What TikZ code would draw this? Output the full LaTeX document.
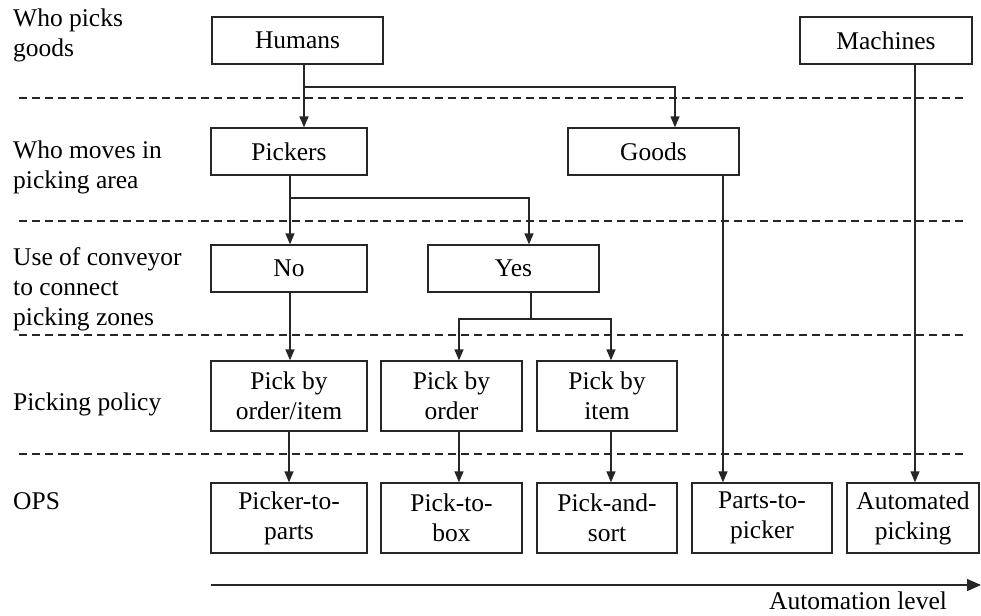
\documentclass[tikz,border=0pt]{standalone}
\usepackage{fontspec}
\setmainfont{Liberation Serif}
\usetikzlibrary{arrows.meta}
\begin{document}
\begin{tikzpicture}[x=1pt,y=-1pt,
  txt/.style={font=\fontsize{25.5}{30}\selectfont},
  box/.style={txt, draw=black!85, line width=1.3pt, minimum height=47pt, inner sep=0pt, align=center},
  tall/.style={box, minimum height=70pt},
  lbl/.style={txt, anchor=base west, inner sep=0pt, align=left},
  conn/.style={line width=1.3pt, draw=black!85},
  arr/.style={conn, -{Triangle[length=11pt,width=9pt]}},
  sep/.style={line width=1.2pt, dash pattern=on 8pt off 5pt, draw=black!85}]
\useasboundingbox (0,0) rectangle (981,615);

% separators
\draw[sep] (19,98) -- (963,98);
\draw[sep] (19,221) -- (963,221);
\draw[sep] (19,335) -- (963,335);
\draw[sep] (19,454) -- (963,454);

% row labels (base = baseline of last line)
\node[lbl] (l1) at (13,57) {Who picks\\goods};
\node[lbl] (l2) at (13,188) {Who moves in\\picking area};
\node[lbl] (l3) at (13,325) {Use of conveyor\\to connect\\picking zones};
\node[lbl] (l4) at (13,410) {Picking policy};
\node[lbl] (l5) at (13,509) {OPS};

% boxes
\node[box, minimum width=171pt] (humans) at (297.5,40.5) {Humans};
\node[box, minimum width=172pt] (machines) at (886,40.5) {Machines};
\node[box, minimum width=156pt] (pickers) at (289,151.5) {Pickers};
\node[box, minimum width=171pt] (goods) at (653.5,151.5) {Goods};
\node[box, minimum width=156pt] (no) at (289,268.5) {No};
\node[box, minimum width=171pt] (yes) at (513.5,268.5) {Yes};
\node[tall, minimum width=156pt] (pboi) at (289,396) {Pick by\\order/item};
\node[tall, minimum width=141pt] (pbo) at (451.5,396) {Pick by\\order};
\node[tall, minimum width=140pt] (pbi) at (607,396) {Pick by\\item};
\node[tall, minimum width=156pt] (ptp) at (289,518) {Picker-to-\\parts};
\node[tall, minimum width=141pt] (ptb) at (451.5,518) {Pick-to-\\box};
\node[tall, minimum width=140pt] (pas) at (607,518) {Pick-and-\\sort};
\node[tall, minimum width=140pt] (prtp) at (762,518) {Parts-to-\\picker};
\node[tall, minimum width=132pt] (auto) at (913,518) {Automated\\picking};

% connector columns
\coordinate (hx) at (304,0);
\coordinate (gx) at (675,0);
\coordinate (hb) at (304,87);
\coordinate (px) at (290,0);
\coordinate (pb) at (290,198);
\coordinate (yx) at (529,0);
\coordinate (yo) at (531,0);
\coordinate (ys) at (531,319);
\coordinate (ox) at (459,0);
\coordinate (ix) at (611,0);
\coordinate (gdx) at (723,0);
\coordinate (mx) at (915,0);
\coordinate (qx) at (289,0);

\draw[arr] (humans.south -| hx) -- (pickers.north -| hx);
\draw[arr] (hb) -| (goods.north -| gx);
\draw[arr] (pickers.south -| px) -- (no.north -| px);
\draw[arr] (pb) -| (yes.north -| yx);
\draw[conn] (yes.south -| yo) -- (ys);
\draw[arr] (ys) -| (pbo.north -| ox);
\draw[arr] (ys) -| (pbi.north -| ix);
\draw[arr] (no.south -| px) -- (pboi.north -| px);
\draw[arr] (goods.south -| gdx) -- (prtp.north -| gdx);
\draw[arr] (machines.south -| mx) -- (auto.north -| mx);
\draw[arr] (pboi.south -| qx) -- (ptp.north -| qx);
\draw[arr] (pbo.south -| ox) -- (ptb.north -| ox);
\draw[arr] (pbi.south -| ix) -- (pas.north -| ix);

% automation axis
\coordinate (a0) at (211,585);
\coordinate (a1) at (981,585);
\draw[conn, -{Triangle[length=14pt,width=12pt]}] (a0) -- (a1);
\node[txt, anchor=base, inner sep=0pt] (al) at (858,609) {Automation level};
\end{tikzpicture}
\end{document}
